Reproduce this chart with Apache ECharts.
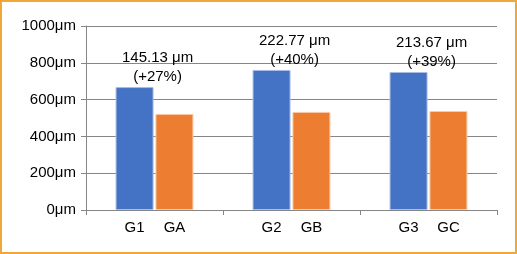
<!DOCTYPE html>
<html>
<head>
<meta charset="utf-8">
<script src="https://cdn.jsdelivr.net/npm/echarts@6/dist/echarts.min.js"></script>
<style>
  html, body { margin: 0; padding: 0; background: #fff; }
  #chart { width: 517px; height: 254px; box-sizing: border-box; border: 2px solid #EFA83A; }
</style>
</head>
<body>
<div id="chart"></div>
<script>
// values
var groups = ['G1', 'G2', 'G3']
var pairs = ['GA', 'GB', 'GC']
var gValues = [668, 761, 750]
var pValues = [522, 533, 538]
var diffText = ['145.13 μm', '222.77 μm', '213.67 μm']
var diffPct = ['(+27%)', '(+40%)', '(+39%)']

var font = 'Liberation Sans, Arial, sans-serif'
var chart = echarts.init(document.getElementById('chart'))
chart.setOption({
  animation: false,
  grid: { left: 84, right: 18, top: 24, bottom: 42 },
  xAxis: {
    type: 'category',
    data: groups,
    axisLine: { lineStyle: { color: '#868686' } },
    axisTick: { show: true, length: 5, lineStyle: { color: '#868686' } },
    axisLabel: {
      interval: 0,
      hideOverlap: false,
      margin: 10,
      fontSize: 15,
      color: '#000',
      fontFamily: font,
      formatter: function (v, i) {
        return '{a|' + v + '}{g|}{b|' + pairs[i] + '}'
      },
      rich: {
        a: { width: 38, align: 'center', fontSize: 15, fontFamily: font, color: '#000' },
        g: { width: 2 },
        b: { width: 38, align: 'center', fontSize: 15, fontFamily: font, color: '#000' }
      }
    }
  },
  yAxis: {
    type: 'value',
    min: 0,
    max: 1000,
    interval: 200,
    axisLine: { show: true, lineStyle: { color: '#868686' } },
    axisTick: { show: true, length: 5, lineStyle: { color: '#868686' } },
    splitLine: { lineStyle: { color: '#868686' } },
    axisLabel: {
      margin: 10,
      fontSize: 15,
      color: '#000',
      fontFamily: font,
      formatter: function (v) { return v + 'μm' }
    }
  },
  series: [
    {
      type: 'bar',
      data: gValues,
      barWidth: 38,
      barGap: '5%',
      itemStyle: { color: '#4472C4', borderColor: '#A9BDE3', borderWidth: 1 },
      label: {
        show: true,
        position: 'top',
        distance: 1,
        offset: [23, 0],
        fontSize: 15,
        lineHeight: 19,
        color: '#000',
        fontFamily: font,
        formatter: function (p) {
          return diffText[p.dataIndex] + '\n' + diffPct[p.dataIndex]
        }
      }
    },
    {
      type: 'bar',
      data: pValues,
      barWidth: 38,
      itemStyle: { color: '#ED7D31', borderColor: '#F9CBA8', borderWidth: 1 }
    }
  ]
})
</script>
</body>
</html>
